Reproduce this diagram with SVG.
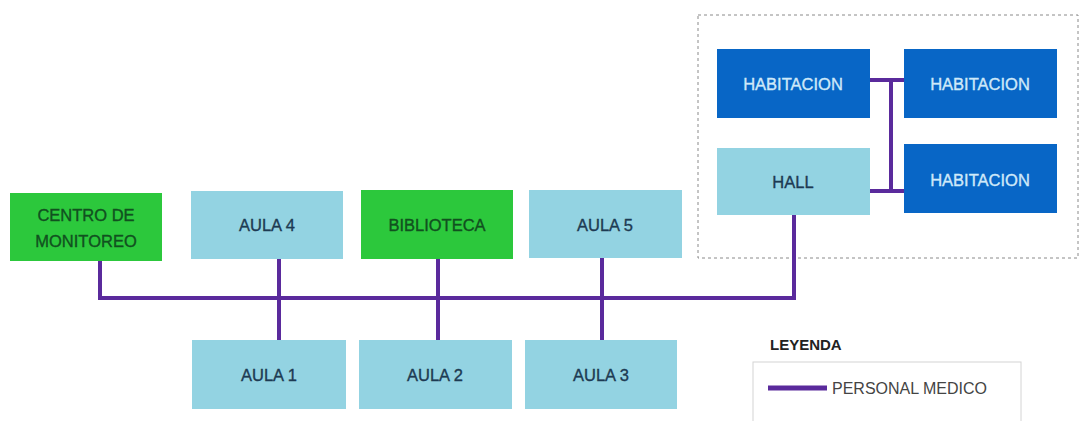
<svg xmlns="http://www.w3.org/2000/svg" width="1080" height="421" viewBox="0 0 1080 421">
  <style>
    .green { fill: #2cc83c; }
    .light { fill: #93d3e2; }
    .dark { fill: #0866c6; }
    .lbl { font-family: "Liberation Sans", Arial, sans-serif; font-size: 16.5px; text-anchor: middle; dominant-baseline: central; stroke-width: 0.35; }
    .on-green { fill: #11501f; stroke: #11501f; }
    .on-light { fill: #1d3a52; stroke: #1d3a52; }
    .on-dark { fill: #cfe9f9; stroke: #cfe9f9; }
    .wire { stroke: #5a2a9c; stroke-width: 4; fill: none; }
  </style>
  <rect width="1080" height="421" fill="#ffffff"/>

  <!-- dashed enclosure of the ward -->
  <rect x="698" y="15" width="380" height="243" fill="none" stroke="#8a8a8a" stroke-width="1" stroke-dasharray="3,3"/>

  <!-- connectors -->
  <g id="connectors">
    <path class="wire" d="M100 261 V298 H794 V215"/>
    <path class="wire" d="M279 259 V340"/>
    <path class="wire" d="M438 259 V340"/>
    <path class="wire" d="M602 258 V340"/>
    <path class="wire" d="M870 80 H904 M891 80 V191 M870 191 H904"/>
  </g>

  <g id="centro">
    <rect class="green" x="10" y="193" width="152" height="68"/>
    <text class="lbl on-green" x="86" y="215">CENTRO DE</text>
    <text class="lbl on-green" x="86" y="241">MONITOREO</text>
  </g>
  <g id="aula4">
    <rect class="light" x="191" y="191" width="152" height="68"/>
    <text class="lbl on-light" x="267" y="225">AULA 4</text>
  </g>
  <g id="biblioteca">
    <rect class="green" x="361" y="190" width="152" height="69"/>
    <text class="lbl on-green" x="437" y="225">BIBLIOTECA</text>
  </g>
  <g id="aula5">
    <rect class="light" x="529" y="190" width="153" height="68"/>
    <text class="lbl on-light" x="605" y="225">AULA 5</text>
  </g>
  <g id="aula1">
    <rect class="light" x="192" y="340" width="154" height="69"/>
    <text class="lbl on-light" x="269" y="375">AULA 1</text>
  </g>
  <g id="aula2">
    <rect class="light" x="359" y="340" width="153" height="69"/>
    <text class="lbl on-light" x="435" y="375">AULA 2</text>
  </g>
  <g id="aula3">
    <rect class="light" x="525" y="340" width="152" height="69"/>
    <text class="lbl on-light" x="601" y="375">AULA 3</text>
  </g>
  <g id="habitacion1">
    <rect class="dark" x="717" y="49" width="153" height="69"/>
    <text class="lbl on-dark" x="793" y="84">HABITACION</text>
  </g>
  <g id="habitacion2">
    <rect class="dark" x="904" y="49" width="153" height="69"/>
    <text class="lbl on-dark" x="980" y="84">HABITACION</text>
  </g>
  <g id="hall">
    <rect class="light" x="717" y="148" width="153" height="67"/>
    <text class="lbl on-light" x="793" y="182">HALL</text>
  </g>
  <g id="habitacion3">
    <rect class="dark" x="904" y="144" width="153" height="69"/>
    <text class="lbl on-dark" x="980" y="180">HABITACION</text>
  </g>

  <!-- legend -->
  <g id="legend">
    <text x="770" y="350" font-family="Liberation Sans, Arial, sans-serif" font-size="15" font-weight="bold" fill="#222">LEYENDA</text>
    <rect x="753" y="362" width="268" height="70" fill="none" stroke="#d4d4d4" stroke-width="1"/>
    <line x1="768" y1="388" x2="827" y2="388" stroke="#5a2a9c" stroke-width="5"/>
    <text x="832" y="394" font-family="Liberation Sans, Arial, sans-serif" font-size="16" fill="#444">PERSONAL MEDICO</text>
  </g>
</svg>
